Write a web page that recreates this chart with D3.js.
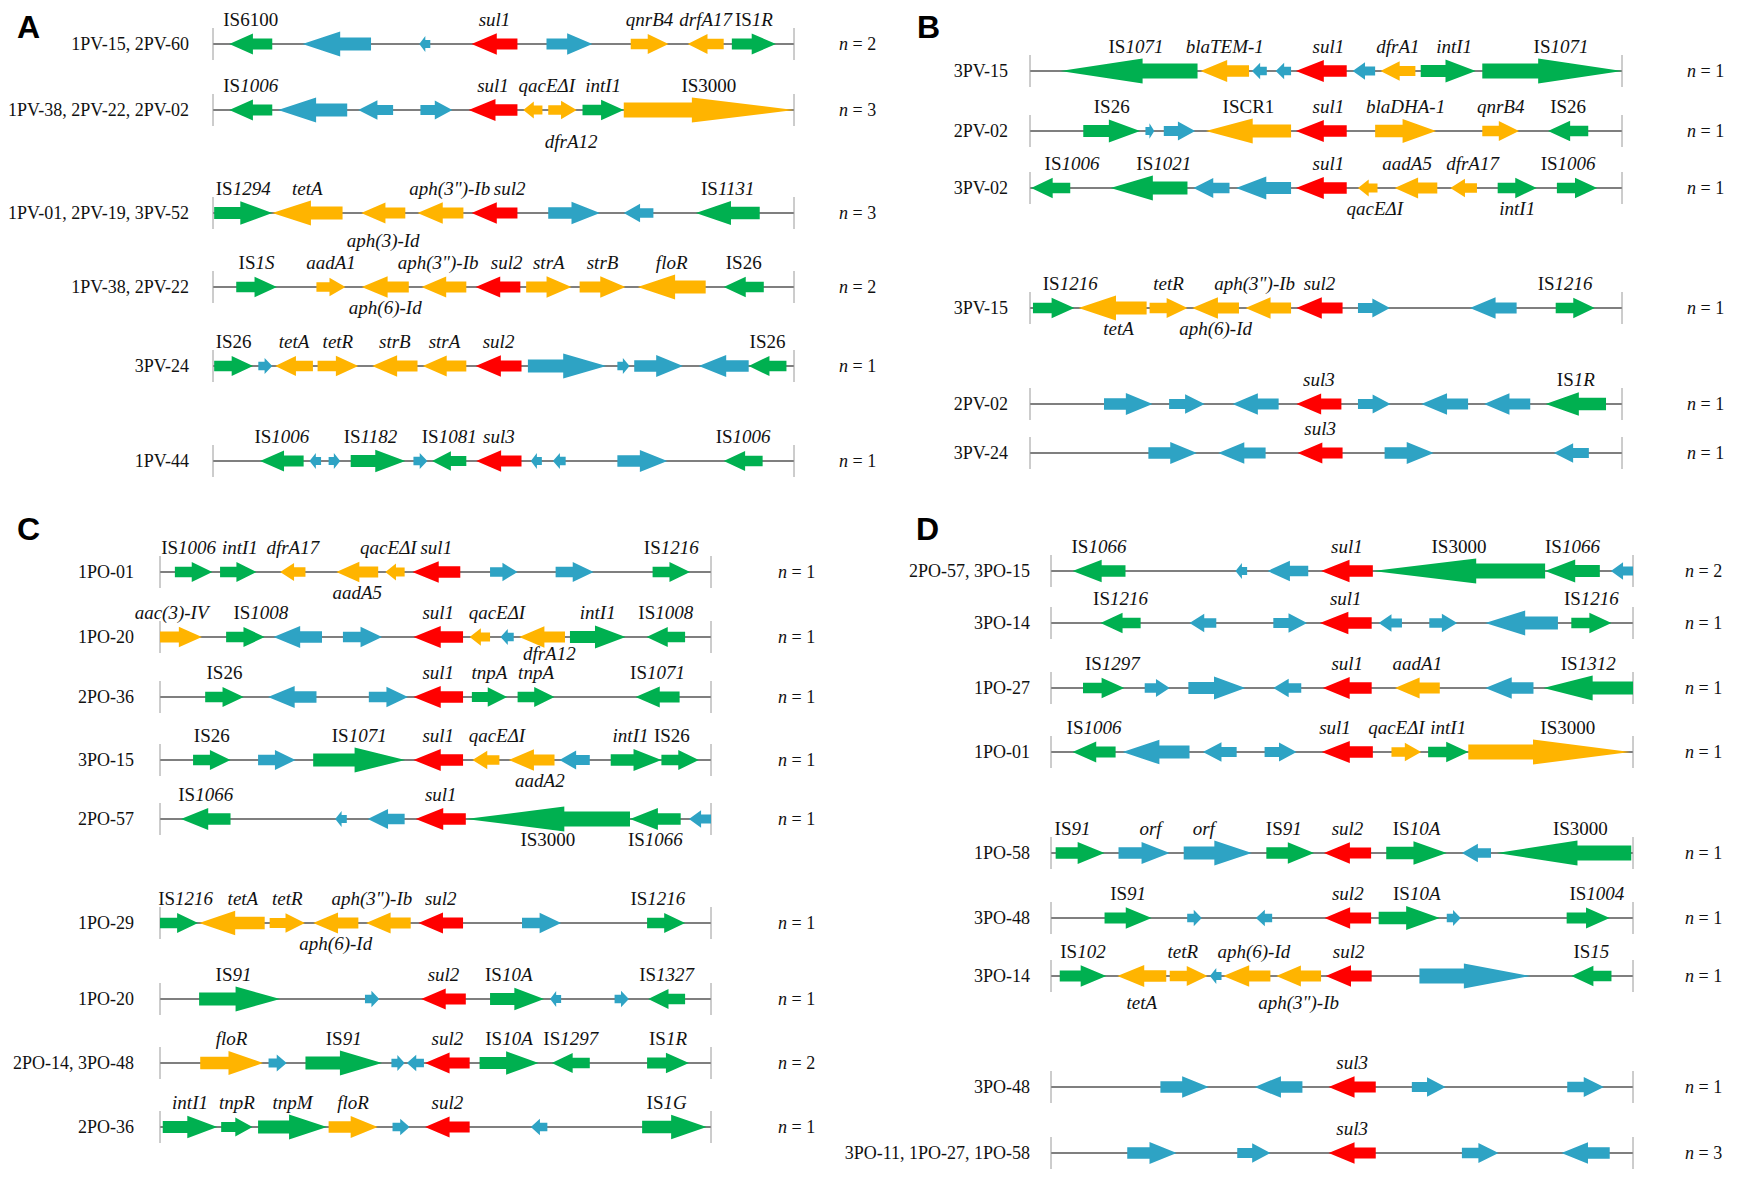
<!DOCTYPE html>
<html><head><meta charset="utf-8">
<script src="https://cdn.jsdelivr.net/npm/d3@7"></script>
<style>body{margin:0;background:#fff}</style>
</head><body>
<svg id="c" width="1737" height="1183"></svg>
<script>
// gene: [start, end, strand, type, label, labelSide]  (positions in % of the shown segment)
const rowsA = [
 {name:"1PV-15, 2PV-60", n:2, genes:[[2.8,10.2,-1,'is','IS6100','a'],[15.4,27.2,-1,'orf'],[35.5,37.4,-1,'orf'],[44.5,52.4,-1,'sul','sul1','a'],[57.4,65.3,1,'orf'],[71.9,78.4,1,'arg','qnrB4','a'],[81.7,87.9,-1,'arg','drfA17','a'],[89.3,96.9,1,'is','IS1R','a']]},
 {name:"1PV-38, 2PV-22, 2PV-02", n:3, genes:[[2.8,10.2,-1,'is','IS1006','a'],[11.2,23.1,-1,'orf'],[25.0,31.0,-1,'orf'],[35.7,41.2,1,'orf'],[44.0,52.4,-1,'sul','sul1','a'],[53.4,56.7,-1,'arg','qacEΔI','a'],[57.7,62.6,1,'arg','dfrA12','b'],[63.6,70.7,1,'is','intI1','a'],[70.7,100,1,'arg','IS3000','a']]},
 {name:"1PV-01, 2PV-19, 3PV-52", n:3, genes:[[0.2,10.2,1,'is','IS1294','a'],[10.2,22.3,-1,'arg','tetA','a'],[25.5,33.1,-1,'arg','aph(3)-Id','b'],[35.2,43.1,-1,'arg','aph(3")-Ib','a'],[44.5,52.4,-1,'sul','sul2','a'],[57.7,66.6,1,'orf'],[70.7,75.8,-1,'orf'],[83.1,94.1,-1,'is','IS1131','a']]},
 {name:"1PV-38, 2PV-22", n:2, genes:[[4.0,11.0,1,'is','IS1S','a'],[17.8,22.8,1,'arg','aadA1','a'],[25.6,33.7,-1,'arg','aph(6)-Id','b'],[35.9,43.6,-1,'arg','aph(3")-Ib','a'],[45.2,52.9,-1,'sul','sul2','a'],[53.9,61.7,1,'arg','strA','a'],[63.1,71.0,1,'arg','strB','a'],[73.1,84.8,-1,'arg','floR','a'],[87.9,94.8,-1,'is','IS26','a']]},
 {name:"3PV-24", n:1, genes:[[0.2,6.9,1,'is','IS26','a'],[7.8,10.2,1,'orf'],[10.7,17.2,-1,'arg','tetA','a'],[18.0,25.0,1,'arg','tetR','a'],[27.4,35.2,-1,'arg','strB','a'],[36.1,43.6,-1,'arg','strA','a'],[45.2,53.1,-1,'sul','sul2','a'],[54.2,67.7,1,'orf'],[69.6,71.7,1,'orf'],[72.5,80.9,1,'orf'],[83.6,92.2,-1,'orf'],[92.2,98.7,-1,'is','IS26','a']]},
 {name:"1PV-44", n:1, genes:[[8.1,15.6,-1,'is','IS1006','a'],[16.6,18.6,-1,'orf'],[19.9,21.9,1,'orf'],[23.7,33.1,1,'is','IS1182','a'],[34.5,36.9,1,'orf'],[37.7,43.6,-1,'is','IS1081','a'],[45.3,53.1,-1,'sul','sul3','a'],[54.7,56.6,-1,'orf'],[58.5,60.7,-1,'orf'],[69.6,78.2,1,'orf'],[87.9,94.6,-1,'is','IS1006','a']]}
];
const rowsB = [
 {name:"3PV-15", n:1, genes:[[5.1,28.3,-1,'is','IS1071','a'],[28.8,37.0,-1,'arg','blaTEM-1','a'],[37.5,40.0,-1,'orf'],[41.5,44.1,-1,'orf'],[44.9,53.5,-1,'sul','sul1','a'],[54.5,58.3,-1,'orf'],[59.2,65.1,-1,'arg','dfrA1','a'],[66.0,75.3,1,'is','intI1','a'],[76.4,100,1,'is','IS1071','a']]},
 {name:"2PV-02", n:1, genes:[[9.0,18.6,1,'is','IS26','a'],[19.5,21.0,1,'orf'],[22.6,27.9,1,'orf'],[29.7,44.1,-1,'arg','ISCR1','a'],[44.9,53.5,-1,'sul','sul1','a'],[58.3,68.6,1,'arg','blaDHA-1','a'],[76.4,82.6,1,'arg','qnrB4','a'],[87.5,94.3,-1,'is','IS26','a']]},
 {name:"3PV-02", n:1, genes:[[0.2,6.8,-1,'is','IS1006','a'],[13.6,26.6,-1,'is','IS1021','a'],[27.6,33.7,-1,'orf'],[34.8,44.1,-1,'orf'],[44.9,53.5,-1,'sul','sul1','a'],[55.4,58.7,-1,'arg','qacEΔI','b'],[61.6,68.8,-1,'arg','aadA5','a'],[71.0,75.5,-1,'arg','dfrA17','a'],[79.0,85.6,1,'is','intI1','b'],[89.0,95.8,1,'is','IS1006','a']]},
 {name:"3PV-15", n:1, genes:[[0.5,7.5,1,'is','IS1216','a'],[8.2,19.7,-1,'arg','tetA','b'],[20.2,26.6,1,'arg','tetR','a'],[27.4,35.3,-1,'arg','aph(6)-Id','b'],[36.4,44.1,-1,'arg','aph(3")-Ib','a'],[45.0,52.8,-1,'sul','sul2','a'],[55.4,60.8,1,'orf'],[74.3,82.2,-1,'orf'],[88.8,95.4,1,'is','IS1216','a']]},
 {name:"2PV-02", n:1, genes:[[12.5,20.7,1,'orf'],[23.5,29.5,1,'orf'],[34.2,42.0,-1,'orf'],[45.0,52.6,-1,'sul','sul3','a'],[55.4,60.9,1,'orf'],[66.1,74.0,-1,'orf'],[76.7,84.5,-1,'orf'],[87.1,97.3,-1,'is','IS1R','a']]},
 {name:"3PV-24", n:1, genes:[[20.0,28.2,1,'orf'],[31.8,39.8,-1,'orf'],[45.2,52.8,-1,'sul','sul3','a'],[59.9,68.2,1,'orf'],[88.5,94.4,-1,'orf']]}
];
const rowsC = [
 {name:"1PO-01", n:1, genes:[[2.7,9.5,1,'is','IS1006','a'],[10.9,17.5,1,'is','intI1','a'],[21.8,26.4,-1,'arg','dfrA17','a'],[32.0,39.6,-1,'arg','aadA5','b'],[40.9,44.4,-1,'arg','qacEΔI','a'],[45.8,54.5,-1,'sul','sul1','a'],[59.9,64.9,1,'orf'],[71.8,78.7,1,'orf'],[89.4,96.2,1,'is','IS1216','a']]},
 {name:"1PO-20", n:1, genes:[[0,7.6,1,'arg','aac(3)-IV','a'],[12.0,19.0,1,'is','IS1008','a'],[20.6,29.4,-1,'orf'],[33.2,40.3,1,'orf'],[46.0,55.0,-1,'sul','sul1','a'],[56.2,59.9,-1,'arg','qacEΔI','a'],[61.8,64.2,-1,'orf'],[65.2,73.5,-1,'arg','dfrA12','b'],[74.4,84.5,1,'is','intI1','a'],[88.3,95.3,-1,'is','IS1008','a']]},
 {name:"2PO-36", n:1, genes:[[8.2,15.2,1,'is','IS26','a'],[19.6,28.4,-1,'orf'],[37.9,45.0,1,'orf'],[46.0,55.0,-1,'sul','sul1','a'],[56.6,63.0,1,'is','tnpA','a'],[64.9,71.6,1,'is','tnpA','a'],[86.3,94.3,-1,'is','IS1071','a']]},
 {name:"3PO-15", n:1, genes:[[6.0,12.8,1,'is','IS26','a'],[17.8,24.6,1,'orf'],[27.8,44.5,1,'is','IS1071','a'],[46.0,55.0,-1,'sul','sul1','a'],[56.7,61.6,-1,'arg','qacEΔI','a'],[63.3,71.6,-1,'arg','aadA2','b'],[72.5,78.0,-1,'orf'],[81.8,91.0,1,'is','intI1','a'],[91.0,97.8,1,'is','IS26','a']]},
 {name:"2PO-57", n:1, genes:[[3.8,12.8,-1,'is','IS1066','a'],[31.8,33.9,-1,'orf'],[37.7,44.4,-1,'orf'],[46.4,55.5,-1,'sul','sul1','a'],[55.5,85.3,-1,'is','IS3000','b'],[85.3,94.5,-1,'is','IS1066','b'],[96.0,100,-1,'orf']]},
 {name:"1PO-29", n:1, genes:[[0,6.9,1,'is','IS1216','a'],[7.1,19.0,-1,'arg','tetA','a'],[19.9,26.3,1,'arg','tetR','a'],[27.8,36.0,-1,'arg','aph(6)-Id','b'],[37.4,45.5,-1,'arg','aph(3")-Ib','a'],[46.9,55.0,-1,'sul','sul2','a'],[65.7,72.8,1,'orf'],[88.4,95.3,1,'is','IS1216','a']]},
 {name:"1PO-20", n:1, genes:[[7.1,21.8,1,'is','IS91','a'],[37.2,39.8,1,'orf'],[47.4,55.5,-1,'sul','sul2','a'],[59.9,69.7,1,'is','IS10A','a'],[70.8,72.8,-1,'orf'],[82.5,85.1,1,'orf'],[88.6,95.3,-1,'is','IS1327','a']]},
 {name:"2PO-14, 3PO-48", n:2, genes:[[7.3,18.7,1,'arg','floR','a'],[19.7,23.0,1,'orf'],[26.4,40.3,1,'is','IS91','a'],[42.0,44.4,1,'orf'],[44.8,47.9,-1,'orf'],[48.1,56.2,-1,'sul','sul2','a'],[58.0,68.7,1,'is','IS10A','a'],[71.1,78.0,-1,'is','IS1297','a'],[88.4,96.0,1,'is','IS1R','a']]},
 {name:"2PO-36", n:1, genes:[[0.5,10.4,1,'is','intI1','a'],[11.1,16.8,1,'is','tnpR','a'],[17.8,30.3,1,'is','tnpM','a'],[30.6,39.5,1,'arg','floR','a'],[42.2,45.3,1,'orf'],[48.1,56.2,-1,'sul','sul2','a'],[67.3,70.3,-1,'orf'],[87.5,99.2,1,'is','IS1G','a']]}
];
const rowsD = [
 {name:"2PO-57, 3PO-15", n:2, genes:[[3.7,12.8,-1,'is','IS1066','a'],[31.7,33.7,-1,'orf'],[37.2,44.2,-1,'orf'],[46.4,55.3,-1,'sul','sul1','a'],[55.3,84.9,-1,'is','IS3000','a'],[84.9,94.3,-1,'is','IS1066','a'],[96.2,100,-1,'orf']]},
 {name:"3PO-14", n:1, genes:[[8.5,15.4,-1,'is','IS1216','a'],[23.8,28.4,-1,'orf'],[38.2,44.0,1,'orf'],[46.2,55.1,-1,'sul','sul1','a'],[56.3,60.3,-1,'orf'],[65.0,69.8,1,'orf'],[74.6,87.1,-1,'orf'],[89.4,96.3,1,'is','IS1216','a']]},
 {name:"1PO-27", n:1, genes:[[5.5,12.6,1,'is','IS1297','a'],[16.1,20.4,1,'orf'],[23.6,33.4,1,'orf'],[38.2,43.0,-1,'orf'],[46.7,55.1,-1,'sul','sul1','a'],[59.1,66.8,-1,'arg','aadA1','a'],[74.6,82.9,-1,'orf'],[84.6,100,-1,'is','IS1312','a']]},
 {name:"1PO-01", n:1, genes:[[3.7,11.1,-1,'is','IS1006','a'],[12.3,23.8,-1,'orf'],[26.1,31.9,-1,'orf'],[36.7,42.2,1,'orf'],[46.5,55.3,-1,'sul','sul1','a'],[58.5,63.6,1,'arg','qacEΔI','a'],[64.8,71.7,1,'is','intI1','a'],[71.7,99.5,1,'arg','IS3000','a']]},
 {name:"1PO-58", n:1, genes:[[0.8,9.2,1,'is','IS91','a'],[11.6,20.4,1,'orf','orf','a'],[22.8,34.5,1,'orf','orf','a'],[37.0,45.2,1,'is','IS91','a'],[46.9,55.0,-1,'sul','sul2','a'],[57.6,68.0,1,'is','IS10A','a'],[70.6,75.6,-1,'orf'],[76.6,99.7,-1,'is','IS3000','a']]},
 {name:"3PO-48", n:1, genes:[[9.2,17.3,1,'is','IS91','a'],[23.4,25.9,1,'orf'],[35.2,38.0,-1,'orf'],[47.0,55.0,-1,'sul','sul2','a'],[56.3,66.8,1,'is','IS10A','a'],[68.0,70.4,1,'orf'],[88.6,96.0,1,'is','IS1004','a']]},
 {name:"3PO-14", n:1, genes:[[1.5,9.5,1,'is','IS102','a'],[11.4,19.8,-1,'arg','tetA','b'],[20.4,26.9,1,'arg','tetR','a'],[27.3,29.3,-1,'orf'],[29.6,37.7,-1,'arg','aph(6)-Id','a'],[38.7,46.4,-1,'arg','aph(3")-Ib','b'],[47.2,55.1,-1,'sul','sul2','a'],[63.3,82.4,1,'orf'],[89.4,96.3,-1,'is','IS15','a']]},
 {name:"3PO-48", n:1, genes:[[18.8,27.1,1,'orf'],[35.0,43.2,-1,'orf'],[47.7,55.8,-1,'sul','sul3','a'],[62.0,67.8,1,'orf'],[88.7,95.0,1,'orf']]},
 {name:"3PO-11, 1PO-27, 1PO-58", n:3, genes:[[13.1,21.6,1,'orf'],[32.0,37.7,1,'orf'],[47.7,55.8,-1,'sul','sul3','a'],[70.6,76.9,1,'orf'],[87.7,96.0,-1,'orf']]}
];
const panelLetters = ['A','B','C','D'];

// ---------- layout (positions / styles) ----------
const layout = {
 A:{rows:rowsA, x0:213, x1:794, lx:189, nx:839, ys:[44,110,213,287,366,461], lp:[17,38]},
 B:{rows:rowsB, x0:1030, x1:1622, lx:1008, nx:1687, ys:[71,131,188,308,404,453], lp:[917,38]},
 C:{rows:rowsC, x0:160, x1:711, lx:134, nx:778, ys:[572,637,697,760,819,923,999,1063,1127], lp:[17,540]},
 D:{rows:rowsD, x0:1051, x1:1633, lx:1030, nx:1685, ys:[571,623,688,752,853,918,976,1087,1153], lp:[916,540]}
};
// label offsets (in % units) keyed panel+row.gene
const labelNudge = {
 'A1.5':2.4,'A1.6':1.5,'A2.3':1.6,'A2.4':2.6,'A3.3':-1,'A3.4':1.5,'A5.3':-1.3,
 'B0.0':1.2,'B0.4':1.2,'B0.7':1,'B0.8':1.5,'B1.4':1.2,
 'B2.0':3.6,'B2.1':2.5,'B2.4':1.2,'B2.5':1.2,'B2.6':-1.5,'B2.7':1.5,'B2.9':-1.5,
 'B3.0':2.8,'B3.1':1,'B3.4':-2.3,'B3.8':-1.7,
 'C0.0':-0.9,'C0.1':0.3,'C0.4':-1.2,'C1.0':-1.7,'C1.1':2.8,'C1.5':3.1,'C1.7':1.3,
 'C3.4':2,'C3.5':1.5,'C3.7':-1,'C3.8':-1.5,
 'C5.0':1.2,'C5.1':2.0,'C5.4':-3,'C5.7':-1.5,'C6.0':-1.1,'C6.3':-1.5,'C8.7':-1.4,
 'D2.0':1.5,'D3.4':-2.1,'D3.5':-1.7,'D3.7':3.2,
 'D4.0':-1.3,'D4.1':1.1,'D4.2':-2.4,'D4.3':-1.1,'D4.7':2.8,
 'D5.4':1.3,'D5.6':1.5,'D6.2':-1,'D6.4':1.2
};
// baseline offsets of labels placed below the track (px)
const belowDy = {'A1.6':38,'A2.2':34,'C1.7':23,'D6.1':33,'D6.5':33};
const fill = {is:'#00b050', arg:'#ffb400', sul:'#ff0000', orf:'#2ea3c4'};
const romanIS = new Set(['IS26','IS3000','ISCR1','IS6100']);
const serif = "'Liberation Serif','Times New Roman',serif";

const svg = d3.select('#c');

function arrow(xa, xb, strand, y){
  const len = xb - xa, big = len > 100;
  const hh = Math.min(12.5, 7 + len * 0.08);
  const bh = big ? 7.5 : hh * 0.52;
  const hl = len * (big ? 0.6 : 0.55);
  const p = d3.path();
  if (strand > 0){
    const xh = xb - hl;
    p.moveTo(xa, y-bh); p.lineTo(xh, y-bh); p.lineTo(xh, y-hh); p.lineTo(xb, y);
    p.lineTo(xh, y+hh); p.lineTo(xh, y+bh); p.lineTo(xa, y+bh);
  } else {
    const xh = xa + hl;
    p.moveTo(xb, y-bh); p.lineTo(xh, y-bh); p.lineTo(xh, y-hh); p.lineTo(xa, y);
    p.lineTo(xh, y+hh); p.lineTo(xh, y+bh); p.lineTo(xb, y+bh);
  }
  p.closePath();
  return p.toString();
}
function writeLabel(t, s){
  if (s.startsWith('IS') && !romanIS.has(s)){
    t.append('tspan').text('IS');
    t.append('tspan').attr('font-style','italic').text(s.slice(2));
  } else if (s.startsWith('IS')) t.text(s);
  else t.attr('font-style','italic').text(s);
}

Object.entries(layout).forEach(([key, L], pi) => {
  const x = d3.scaleLinear().domain([0,100]).range([L.x0, L.x1]);
  const g = svg.append('g');
  g.append('text').attr('x', L.lp[0]).attr('y', L.lp[1])
    .attr('font-family',"'Liberation Sans',Arial,sans-serif").attr('font-weight','bold')
    .attr('font-size',32).text(panelLetters[pi]);
  L.rows.forEach((row, ri) => {
    const y = L.ys[ri];
    const rg = g.append('g');
    rg.append('line').attr('x1',x(0)).attr('x2',x(100)).attr('y1',y).attr('y2',y)
      .attr('stroke','#7f7f7f').attr('stroke-width',2);
    [0,100].forEach(v => rg.append('line').attr('x1',x(v)).attr('x2',x(v))
      .attr('y1',y-16).attr('y2',y+16).attr('stroke','#9a9a9a').attr('stroke-width',1));
    rg.selectAll('path.gene').data(row.genes).join('path').attr('class','gene')
      .attr('d', d => arrow(x(d[0]), x(d[1]), d[2], y))
      .attr('fill', d => fill[d[3]]);
    row.genes.forEach((d, gi) => {
      if (!d[4]) return;
      const id = key + ri + '.' + gi;
      const nud = labelNudge[id] || 0;
      const t = rg.append('text').attr('x', x((d[0]+d[1])/2 + nud))
        .attr('y', d[5]==='b' ? y + (belowDy[id] || 27) : y - 18).attr('text-anchor','middle')
        .attr('font-family', serif).attr('font-size',19).attr('fill','#111');
      writeLabel(t, d[4]);
    });
    rg.append('text').attr('x', L.lx).attr('y', y+6).attr('text-anchor','end')
      .attr('font-family', serif).attr('font-size',18).attr('fill','#111').text(row.name);
    const nt = rg.append('text').attr('x', L.nx).attr('y', y+6)
      .attr('font-family', serif).attr('font-size',18).attr('fill','#111');
    nt.append('tspan').attr('font-style','italic').text('n');
    nt.append('tspan').text(' = ' + row.n);
  });
});
</script>
</body></html>
